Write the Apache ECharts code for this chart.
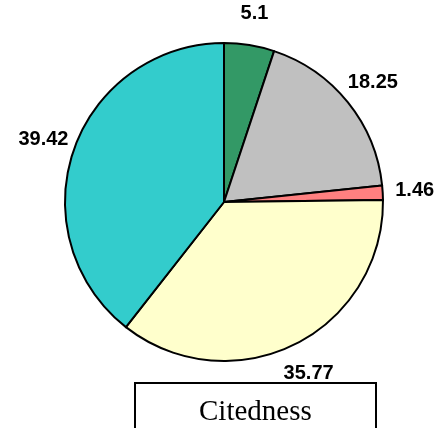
<!DOCTYPE html>
<html>
<head>
<meta charset="utf-8">
<script src="https://cdn.jsdelivr.net/npm/echarts@6/dist/echarts.min.js"></script>
<style>
html,body{margin:0;padding:0;background:#fff;}
#chart{width:435px;height:428px;}
</style>
</head>
<body>
<div id="chart"></div>
<script>
var categories = ['A', 'B', 'C', 'D', 'E'];
var values = [5.1, 18.25, 1.46, 35.77, 39.42];
var colors = ['#339966', '#c0c0c0', '#ff8080', '#ffffcc', '#33cccc'];
var legendTitle = 'Citedness';

var chart = echarts.init(document.getElementById('chart'), null, {renderer: 'canvas'});
var pieData = categories.map(function (c, i) {
  return { name: c, value: values[i], itemStyle: { color: colors[i] } };
});
var labelData = categories.map(function (c, i) {
  return { name: c, value: values[i] };
});
chart.setOption({
  animation: false,
  backgroundColor: '#ffffff',
  title: {
    text: legendTitle,
    left: 135,
    top: 383,
    padding: [15, 64, 14, 64],
    borderColor: '#000',
    borderWidth: 2,
    textStyle: {
      fontFamily: 'Liberation Serif',
      fontSize: 29,
      fontWeight: 'normal',
      color: '#000'
    }
  },
  series: [
    {
      type: 'pie',
      center: [224, 202],
      radius: [0, 159],
      startAngle: 90,
      clockwise: true,
      silent: true,
      label: { show: false },
      labelLine: { show: false },
      itemStyle: { borderColor: '#000', borderWidth: 2 },
      data: pieData
    },
    {
      type: 'pie',
      center: [224, 202],
      radius: [178, 198],
      startAngle: 90,
      clockwise: true,
      silent: true,
      itemStyle: { color: 'rgba(0,0,0,0)', borderWidth: 0 },
      label: {
        show: true,
        position: 'inside',
        formatter: function (p) { return p.value; },
        fontFamily: 'Liberation Sans',
        fontWeight: 'bold',
        fontSize: 20,
        color: '#000'
      },
      labelLine: { show: false },
      data: labelData
    }
  ]
});
</script>
</body>
</html>
